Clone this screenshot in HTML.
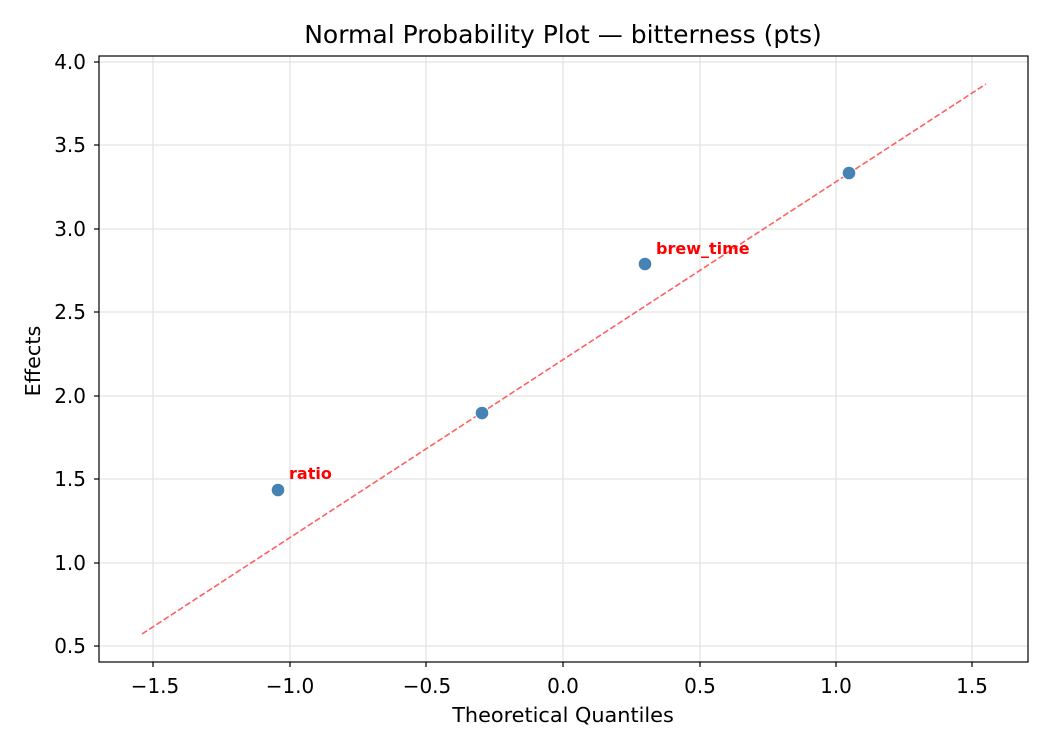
<!DOCTYPE html>
<html><head><meta charset="utf-8"><style>
body{margin:0;background:#fff;}
svg{display:block;font-family:"DejaVu Sans","Liberation Sans",sans-serif;}
</style></head><body>
<svg width="1050" height="750" viewBox="0 0 1050 750" xmlns="http://www.w3.org/2000/svg">
<rect width="1050" height="750" fill="#fff"/>
<g stroke="#e3e3e3" stroke-width="1.3">
<line x1="153" y1="56" x2="153" y2="662"/><line x1="290" y1="56" x2="290" y2="662"/>
<line x1="426" y1="56" x2="426" y2="662"/><line x1="563" y1="56" x2="563" y2="662"/>
<line x1="700" y1="56" x2="700" y2="662"/><line x1="836" y1="56" x2="836" y2="662"/>
<line x1="972" y1="56" x2="972" y2="662"/>
<line x1="99" y1="62" x2="1028" y2="62"/><line x1="99" y1="145" x2="1028" y2="145"/>
<line x1="99" y1="229" x2="1028" y2="229"/><line x1="99" y1="312" x2="1028" y2="312"/>
<line x1="99" y1="396" x2="1028" y2="396"/><line x1="99" y1="479" x2="1028" y2="479"/>
<line x1="99" y1="563" x2="1028" y2="563"/><line x1="99" y1="646" x2="1028" y2="646"/>
</g>
<line x1="142" y1="634" x2="986" y2="84" stroke="#ff6060" stroke-width="1.6" stroke-dasharray="6,2.6"/>
<g fill="#4682b4" stroke="#fff" stroke-width="1">
<circle cx="278" cy="490" r="6.8"/><circle cx="482" cy="413" r="6.8"/>
<circle cx="645" cy="264" r="6.8"/><circle cx="849" cy="173" r="6.8"/>
</g>
<text x="289" y="479" font-size="16" font-weight="bold" fill="red">ratio</text>
<text x="656" y="254" font-size="16" font-weight="bold" fill="red">brew_time</text>
<rect x="99" y="56" width="929" height="606" fill="none" stroke="#000" stroke-width="1.2"/>
<g stroke="#000" stroke-width="1.2">
<line x1="153" y1="662" x2="153" y2="667"/><line x1="290" y1="662" x2="290" y2="667"/>
<line x1="426" y1="662" x2="426" y2="667"/><line x1="563" y1="662" x2="563" y2="667"/>
<line x1="700" y1="662" x2="700" y2="667"/><line x1="836" y1="662" x2="836" y2="667"/>
<line x1="972" y1="662" x2="972" y2="667"/>
<line x1="94" y1="62" x2="99" y2="62"/><line x1="94" y1="145" x2="99" y2="145"/>
<line x1="94" y1="229" x2="99" y2="229"/><line x1="94" y1="312" x2="99" y2="312"/>
<line x1="94" y1="396" x2="99" y2="396"/><line x1="94" y1="479" x2="99" y2="479"/>
<line x1="94" y1="563" x2="99" y2="563"/><line x1="94" y1="646" x2="99" y2="646"/>
</g>
<g font-size="20" fill="#000" text-anchor="middle">
<text x="155" y="693">−1.5</text><text x="290" y="693">−1.0</text><text x="427" y="693">−0.5</text>
<text x="563" y="693">0.0</text><text x="700" y="693">0.5</text><text x="836" y="693">1.0</text>
<text x="972" y="693">1.5</text>
</g>
<g font-size="20" fill="#000" text-anchor="end">
<text x="86" y="69">4.0</text><text x="86" y="152">3.5</text><text x="86" y="236">3.0</text>
<text x="86" y="319">2.5</text><text x="86" y="403">2.0</text><text x="86" y="486">1.5</text>
<text x="86" y="570">1.0</text><text x="86" y="653">0.5</text>
</g>
<text x="563" y="722" font-size="20.8" text-anchor="middle">Theoretical Quantiles</text>
<text x="40" y="361" font-size="20.8" text-anchor="middle" transform="rotate(-90 40 361)">Effects</text>
<text x="563" y="43" font-size="25" text-anchor="middle">Normal Probability Plot — bitterness (pts)</text>
</svg>
</body></html>
